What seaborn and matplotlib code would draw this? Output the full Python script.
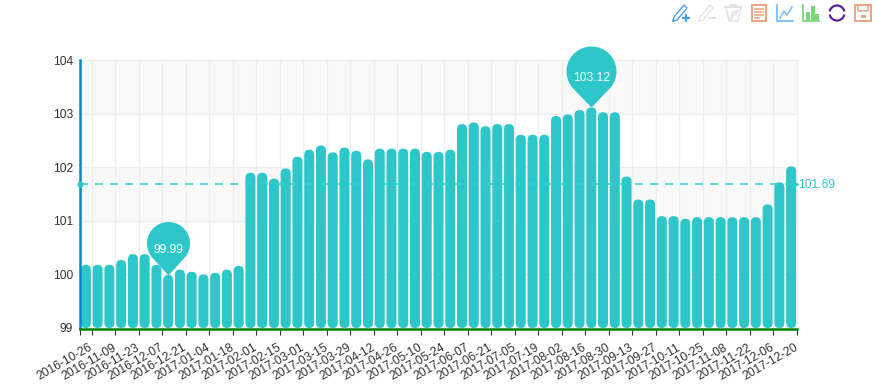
import numpy as np
import pandas as pd
import matplotlib
matplotlib.use("Agg")
import matplotlib.pyplot as plt
import seaborn as sns
from matplotlib.lines import Line2D
from matplotlib.patches import FancyBboxPatch, Rectangle
from matplotlib.path import Path

dates = [d.strftime("%Y-%m-%d") for d in pd.date_range("2016-10-26", "2017-12-20", freq="7D")]
values = [100.18, 100.18, 100.18, 100.27, 100.38, 100.38, 100.18, 99.99, 100.09, 100.05,
          100.00, 100.03, 100.09, 100.16, 101.90, 101.90, 101.79, 101.98, 102.20, 102.33,
          102.41, 102.28, 102.37, 102.31, 102.15, 102.35, 102.35, 102.35, 102.35, 102.29,
          102.29, 102.33, 102.81, 102.84, 102.77, 102.81, 102.81, 102.61, 102.61, 102.61,
          102.96, 102.99, 103.07, 103.12, 103.03, 103.03, 101.83, 101.40, 101.40, 101.09,
          101.09, 101.04, 101.07, 101.07, 101.07, 101.07, 101.07, 101.07, 101.31, 101.72,
          102.02]
mean_value = 101.69
y_ticks = [99, 100, 101, 102, 103, 104]

TEAL = "#2ec7c9"
DASH = "#2dd2d4"
FS = 8.64
W, H = 876, 388

plt.rcParams["font.family"] = ["Liberation Sans", "DejaVu Sans"]
df = pd.DataFrame({"date": dates, "value": values})

fig = plt.figure(figsize=(W / 100, H / 100), dpi=100)
ax = fig.add_axes([80 / W, 1 - 328 / H, 717 / W, 267.7 / H])

sns.barplot(data=df, x="date", y="value", color=TEAL, saturation=1, width=0.85, ax=ax)

# echarts style bars, rounded on both ends
y_base = 99.0
for p in list(ax.patches):
    x0, w, top = p.get_x(), p.get_width(), p.get_height()
    p.remove()
    ax.add_patch(FancyBboxPatch((x0, y_base), w, top - y_base,
                                boxstyle="round,pad=0,rounding_size=0.42",
                                mutation_aspect=0.093 / 0.42,
                                fc=TEAL, ec="none", zorder=3))

ax.set_xlim(-0.5, 60.5)
ax.set_ylim(99, 104)
ax.set_xlabel("")
ax.set_ylabel("")

# spine position resets the ticks, so it has to come before they are set up
for side in ["top", "right"]:
    ax.spines[side].set_color("#eeeeee")
    ax.spines[side].set_linewidth(0.9)
ax.spines["left"].set_color("#0088cc")
ax.spines["left"].set_linewidth(1.8)
ax.spines["bottom"].set_position(("outward", 0.8))
ax.spines["bottom"].set_color("#008000")
ax.spines["bottom"].set_linewidth(1.8)
ax.spines["left"].set_zorder(6)
ax.spines["bottom"].set_zorder(6)

# alternating bands and grid
for lo in [103, 101]:
    ax.axhspan(lo, lo + 1, color="#f9f9f9", zorder=0, lw=0)
tick_pos = np.arange(0.5, 61, 2)
for x in tick_pos:
    ax.axvline(x, color="#eeeeee", lw=0.9, zorder=1)
for y in y_ticks[1:]:
    ax.axhline(y, color="#eeeeee", lw=0.9, zorder=1)

ax.set_yticks(y_ticks)
ax.set_yticklabels([str(v) for v in y_ticks], fontsize=FS, color="#333333")
ax.tick_params(axis="y", length=0, pad=5)
# labels sit a little left of the tick marks, so marks are minor ticks
ax.set_xticks(tick_pos - 0.25)
ax.set_xticklabels(dates[::2], fontsize=FS, color="#333333", rotation=30,
                   ha="right", rotation_mode="anchor")
ax.tick_params(axis="x", which="major", length=0, pad=9)
ax.set_xticks(np.r_[-0.5, tick_pos], minor=True)
ax.tick_params(axis="x", which="minor", length=4, width=0.8, color="#333333")

# average mark line
ax.plot([-0.5, 60.5], [mean_value, mean_value], color=DASH, lw=1.1,
        dashes=(5.24, 4.58), zorder=4, clip_on=False)
ax.plot([-0.5], [mean_value], "o", color=TEAL, ms=4.5, mec="none", zorder=7, clip_on=False)
ax.plot([60.5], [mean_value], ">", color=TEAL, ms=3, mec="none", zorder=7, clip_on=False)
ax.annotate("101.69", (60.5, mean_value), xytext=(0.5, -0.5), textcoords="offset points",
            color=TEAL, fontsize=FS, va="center", ha="left")


def pin_path(r, h):
    a = np.arccos(r / h)
    t = np.linspace(-np.pi / 2 + a, 3 * np.pi / 2 - a, 80)
    pts = np.column_stack([r * np.cos(t), h + r * np.sin(t)])
    pts = np.vstack([[0, 0], pts, [0, 0]])
    return Path(pts, closed=True)


# max / min pins, tip sits on the bar top
for val, r, h in [(max(values), 25, 36), (min(values), 21.5, 32)]:
    i = values.index(val)
    size_pt = (r + h) * 2 * 0.72
    ax.plot([i], [val], marker=pin_path(r, h), ms=size_pt, color=TEAL, mec="none",
            ls="none", zorder=5, clip_on=False)
    ax.annotate(f"{val:.2f}", (i, val), xytext=(0, (h - 7) * 0.72), textcoords="offset points",
                color="white", fontsize=FS, ha="center", va="center", zorder=6)


# toolbox icons, drawn in pixel space of the figure
def px(x, y):
    return x / W, 1 - y / H


def stroke(xs, ys, color, lw=1.1):
    pts = [px(x, y) for x, y in zip(xs, ys)]
    fig.add_artist(Line2D([p[0] for p in pts], [p[1] for p in pts], color=color, lw=lw))


def box(x, y, w, h, color, fill="none", lw=1.2):
    fx, fy = px(x, y + h)
    fig.add_artist(Rectangle((fx, fy), w / W, h / H, transform=fig.transFigure,
                             ec=color, fc=fill, lw=lw))


BLUE, GREY, ORANGE = "#3e9bff", "#e2e2e2", "#e8a77f"
for x0, col in [(673, BLUE), (699, GREY)]:
    stroke([x0, x0 + 1, x0 + 11, x0 + 14, x0 + 4, x0], [21, 17, 5, 8, 20, 21], col, 0.9)
    stroke([x0 + 10, x0 + 16], [18, 18], col, 1.4)
stroke([686, 686], [15, 21], BLUE, 1.4)
stroke([725, 741], [7, 7], GREY, 1.4)
stroke([730, 736], [5, 5], GREY, 1.4)
stroke([726, 729, 738, 741], [8, 21, 21, 8], GREY)
stroke([730, 738, 733, 730], [20, 11, 12, 20], GREY)
box(752, 5, 14, 16, ORANGE, lw=1.4)
for yy, x1 in [(9, 763), (12, 763), (15, 763), (18, 759)]:
    stroke([755, x1], [yy, yy], ORANGE, 1.2)
stroke([777, 777, 793], [5, 21, 21], "#78bcf5", 1.3)
stroke([780, 784, 787, 792], [18, 11, 15, 7], "#78bcf5", 1.1)
stroke([803, 803, 819], [5, 21, 21], "#7ed47c", 1.3)
for bx, bh in [(806, 8), (811, 14), (815, 6)]:
    box(bx, 20 - bh, 3, bh, "#5ec85c", "#7ed47c", 0.5)
for t1, t2 in [(20, 160), (200, 340)]:
    t = np.radians(np.linspace(t1, t2, 30))
    stroke(837 + 7.5 * np.cos(t), 13 - 7.5 * np.sin(t), "#5b1f9a", 1.6)
box(855, 5, 16, 16, ORANGE, lw=1.4)
stroke([858, 858, 868, 868], [5, 11, 11, 5], ORANGE, 1.1)
box(861, 15, 4, 2, ORANGE, ORANGE, 0.8)

fig.savefig("out.png", dpi=100)
